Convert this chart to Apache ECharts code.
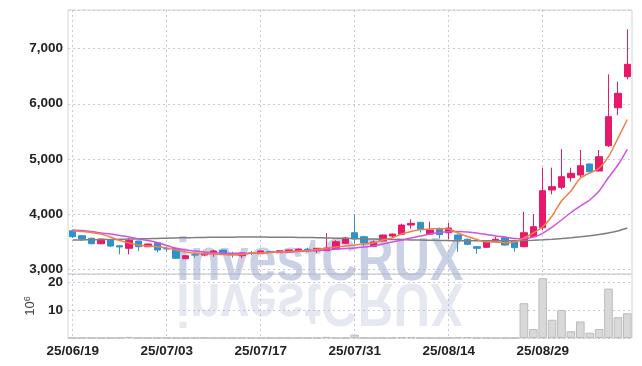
<!DOCTYPE html>
<html>
<head>
<meta charset="utf-8">
<script src="https://cdn.jsdelivr.net/npm/echarts@6/dist/echarts.min.js"></script>
<style>
  html, body { margin: 0; padding: 0; background: #fff; }
  #chart { width: 642px; height: 366px; }
</style>
</head>
<body>
<div id="chart"></div>
<script>
// trading days (8/15 holiday skipped)
const dates = [
  '25/06/19', '25/06/20', '25/06/23', '25/06/24', '25/06/25', '25/06/26', '25/06/27', '25/06/30', '25/07/01', '25/07/02',
  '25/07/03', '25/07/04', '25/07/07', '25/07/08', '25/07/09', '25/07/10', '25/07/11', '25/07/14', '25/07/15', '25/07/16',
  '25/07/17', '25/07/18', '25/07/21', '25/07/22', '25/07/23', '25/07/24', '25/07/25', '25/07/28', '25/07/29', '25/07/30',
  '25/07/31', '25/08/01', '25/08/04', '25/08/05', '25/08/06', '25/08/07', '25/08/08', '25/08/11', '25/08/12', '25/08/13',
  '25/08/14', '25/08/18', '25/08/19', '25/08/20', '25/08/21', '25/08/22', '25/08/25', '25/08/26', '25/08/27', '25/08/28',
  '25/08/29', '25/09/01', '25/09/02', '25/09/03', '25/09/04', '25/09/05', '25/09/08', '25/09/09', '25/09/10', '25/09/11'
];

// [open, close, low, high]
const ohlc = [
  [3702, 3594, 3570, 3724], [3612, 3552, 3516, 3625], [3565, 3467, 3455, 3575], [3467, 3552, 3456, 3560], [3528, 3425, 3405, 3535],
  [3430, 3408, 3275, 3440], [3384, 3528, 3275, 3565], [3516, 3413, 3335, 3520], [3413, 3461, 3405, 3470], [3485, 3353, 3311, 3490],
  [3380, 3371, 3322, 3413], [3384, 3203, 3195, 3390], [3196, 3250, 3190, 3255], [3268, 3262, 3214, 3304], [3262, 3286, 3239, 3311],
  [3293, 3335, 3232, 3353], [3353, 3280, 3270, 3360], [3280, 3275, 3214, 3322], [3250, 3299, 3205, 3305], [3299, 3293, 3262, 3335],
  [3286, 3335, 3280, 3340], [3326, 3317, 3300, 3335], [3304, 3340, 3300, 3345], [3317, 3353, 3312, 3358], [3329, 3371, 3325, 3380],
  [3365, 3335, 3330, 3395], [3340, 3384, 3300, 3390], [3340, 3389, 3335, 3655], [3371, 3503, 3365, 3530], [3474, 3570, 3465, 3590],
  [3666, 3552, 3465, 4000], [3594, 3480, 3420, 3610], [3416, 3498, 3405, 3525], [3516, 3624, 3510, 3630], [3606, 3642, 3575, 3650],
  [3637, 3805, 3630, 3830], [3805, 3836, 3740, 3909], [3854, 3728, 3670, 3860], [3642, 3715, 3635, 3865], [3728, 3633, 3565, 3760],
  [3666, 3751, 3545, 3847], [3624, 3547, 3322, 3640], [3547, 3456, 3440, 3560], [3413, 3384, 3285, 3425], [3402, 3503, 3395, 3510],
  [3503, 3547, 3490, 3590], [3575, 3443, 3435, 3585], [3521, 3395, 3322, 3530], [3413, 3666, 3405, 4046], [3594, 3775, 3585, 4004],
  [3757, 4426, 3715, 4843], [4439, 4499, 4361, 4843], [4488, 4680, 4452, 5181], [4662, 4741, 4590, 4843], [4710, 4879, 4670, 5163],
  [4910, 4770, 4760, 4920], [4783, 5042, 4775, 5163], [5241, 5766, 5220, 6533], [5929, 6189, 5796, 6399], [6490, 6714, 6443, 7348]
];

const ma5 = [
  3702, 3688, 3670, 3643, 3588, 3525, 3480, 3443, 3425, 3413,
  3389, 3353, 3317, 3293, 3284, 3280, 3271, 3262, 3271, 3293,
  3299, 3308, 3317, 3326, 3335, 3344, 3362, 3384, 3407, 3425,
  3443, 3462, 3480, 3534, 3570, 3643, 3688, 3724, 3733, 3742,
  3733, 3661, 3597, 3543, 3498, 3498, 3485, 3498, 3570, 3661,
  3775, 3968, 4240, 4421, 4651, 4747, 4832, 5042, 5375, 5715
];

const ma20 = [
  3715, 3706, 3688, 3661, 3643, 3615, 3588, 3552, 3525, 3489,
  3434, 3384, 3353, 3335, 3317, 3304, 3299, 3293, 3293, 3293,
  3299, 3308, 3317, 3320, 3326, 3335, 3344, 3353, 3371, 3380,
  3389, 3407, 3425, 3462, 3498, 3534, 3570, 3606, 3642, 3670,
  3684, 3688, 3679, 3661, 3634, 3606, 3588, 3561, 3556, 3588,
  3655, 3769, 3896, 4032, 4149, 4258, 4421, 4665, 4891, 5176
];

const ma120 = [
  3534, 3536, 3538, 3540, 3543, 3547, 3551, 3555, 3559, 3563,
  3568, 3572, 3575, 3578, 3581, 3583, 3585, 3586, 3587, 3587,
  3587, 3586, 3585, 3583, 3581, 3579, 3576, 3572, 3568, 3565,
  3561, 3556, 3552, 3548, 3544, 3540, 3536, 3533, 3530, 3527,
  3524, 3522, 3520, 3519, 3519, 3519, 3520, 3521, 3524, 3530,
  3538, 3548, 3560, 3575, 3592, 3612, 3636, 3663, 3697, 3750
];

// volume, 10^6 shares
const volume = [
  0.05, 0.05, 0.05, 0.05, 0.05, 0.05, 0.4, 0.05, 0.05, 0.05,
  0.05, 0.05, 0.05, 0.05, 0.05, 0.05, 0.05, 0.05, 0.05, 0.05,
  0.05, 0.05, 0.05, 0.05, 0.05, 0.05, 0.05, 0.4, 0.05, 0.05,
  1.2, 0.05, 0.05, 0.05, 0.05, 0.3, 0.3, 0.05, 0.05, 0.05,
  0.05, 0.3, 0.3, 0.05, 0.05, 0.05, 0.05, 0.05, 12.4, 3.2,
  21.3, 6.5, 10.0, 2.4, 5.9, 1.9, 3.2, 17.6, 7.4, 8.8
];

const UP = '#e6196b';
const DOWN = '#2e93cc';
const GRID_LINE = '#c4c9dc';
const FONT = '"Liberation Sans", Arial, sans-serif';
const MARK_FONT = 'bold 62px "Liberation Sans", Arial, sans-serif';

const chart = echarts.init(document.getElementById('chart'));

const dotted = { show: true, lineStyle: { color: GRID_LINE, type: [2, 3], width: 1 } };
const vSplit = { show: true, interval: 9, alignWithLabel: true, lineStyle: { color: GRID_LINE, type: [2, 3], width: 1 } };
const tickFont = { color: '#222', fontFamily: FONT, fontWeight: 'bold', fontSize: 13.5 };

const line = (name, data, color, w) => ({
  name,
  type: 'line',
  data,
  smooth: 0.3,
  symbol: 'none',
  lineStyle: { color, width: w },
  itemStyle: { color },
  z: 3,
});

chart.setOption({
  animation: false,
  grid: [
    { left: 68, right: 10, top: 10, height: 264, show: true, borderColor: '#d4d4d4', borderWidth: 1 },
    { left: 68, right: 10, top: 274, height: 64, show: true, borderColor: '#d4d4d4', borderWidth: 1 },
  ],
  // watermark + its mirror, squeezed to the narrow look of the original
  graphic: [
    {
      type: 'text', x: 176, y: 294, scaleX: 0.81, z: 1, silent: true,
      style: {
        text: 'investCRUX', font: MARK_FONT,
        fill: 'rgba(168,178,210,0.6)', textAlign: 'left', textVerticalAlign: 'bottom',
      },
    },
    {
      type: 'text', x: 176, y: 270, scaleX: 0.81, scaleY: -1, z: 1, silent: true,
      style: {
        text: 'investCRUX', font: MARK_FONT,
        fill: 'rgba(168,178,210,0.3)', textAlign: 'left', textVerticalAlign: 'bottom',
      },
    },
  ],
  xAxis: [
    {
      type: 'category', gridIndex: 0, data: dates, boundaryGap: true,
      axisLine: { show: false }, axisTick: { show: false }, axisLabel: { show: false },
      splitLine: vSplit,
    },
    {
      type: 'category', gridIndex: 1, data: dates, boundaryGap: true,
      axisLine: { show: false }, axisTick: { show: false },
      axisLabel: Object.assign({ interval: 9, margin: 6 }, tickFont),
      splitLine: vSplit,
    },
  ],
  yAxis: [
    {
      type: 'value', gridIndex: 0, min: 2919, max: 7697,
      axisLine: { show: false }, axisTick: { show: false },
      axisLabel: Object.assign({ showMinLabel: false, showMaxLabel: false, margin: 5 }, tickFont),
      splitLine: dotted,
    },
    {
      type: 'value', gridIndex: 1, min: 0, max: 22.8, interval: 10,
      axisLine: { show: false }, axisTick: { show: false },
      axisLabel: Object.assign({ showMinLabel: false, showMaxLabel: false, margin: 5 }, tickFont),
      splitLine: dotted,
      name: '{b|10}{s|6}',
      nameLocation: 'middle',
      nameRotate: 90,
      nameGap: 27,
      nameTextStyle: {
        color: '#444',
        rich: {
          b: { fontSize: 13, fontFamily: 'Liberation Sans', lineHeight: 16 },
          s: { fontSize: 9, fontFamily: 'Liberation Sans', verticalAlign: 'top', lineHeight: 16 },
        },
      },
    },
  ],
  series: [
    {
      name: 'price',
      type: 'candlestick',
      xAxisIndex: 0, yAxisIndex: 0,
      data: ohlc,
      barWidth: '72%',
      itemStyle: { color: UP, color0: DOWN, borderColor: UP, borderColor0: DOWN, borderWidth: 1 },
      z: 2,
    },
    line('MA120', ma120, '#7f7f7f', 1.5),
    line('MA20', ma20, '#d152e2', 1.5),
    line('MA5', ma5, '#ef8049', 1.5),
    {
      name: 'volume',
      type: 'bar',
      xAxisIndex: 1, yAxisIndex: 1,
      data: volume,
      barWidth: '92%',
      itemStyle: { color: '#d8d8d8', borderColor: '#bcbcbc', borderWidth: 1 },
    },
  ],
});
</script>
</body>
</html>
